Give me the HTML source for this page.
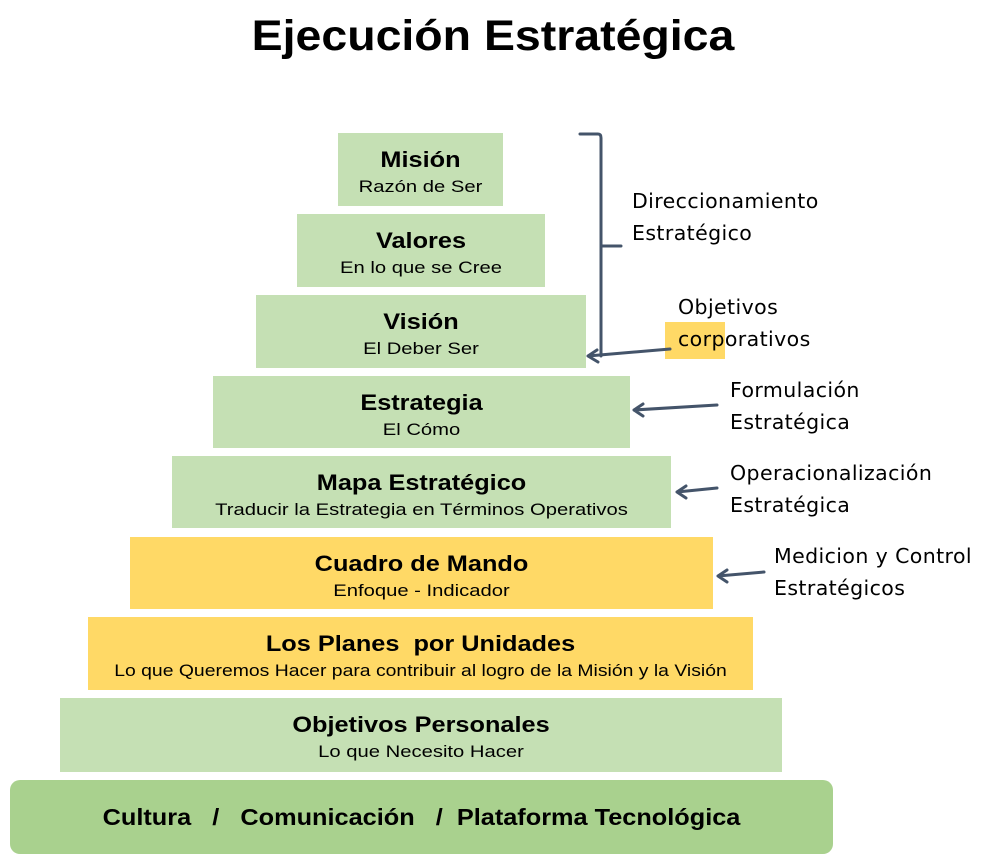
<!DOCTYPE html>
<html><head><meta charset="utf-8"><style>
body{margin:0;width:993px;height:864px;background:#fff;position:relative;overflow:hidden;font-family:"Liberation Sans",Arial,sans-serif}
.b{position:absolute;background:#c5e0b4;text-align:center;color:#000;white-space:nowrap}
.y{background:#ffd966}
.b .t{font-weight:bold;font-size:22px;margin-top:14px;line-height:26px;transform:scaleX(1.15)}
.b .s{font-size:17px;line-height:22px;margin-top:3px;transform:scaleX(1.19)}
.r{position:absolute;font-family:"DejaVu Sans","Liberation Sans",sans-serif;font-size:20.5px;letter-spacing:0.4px;line-height:32px;color:#000}
</style></head><body>
<div style="position:absolute;left:0;width:986px;top:12px;text-align:center;font-size:43px;font-weight:bold;transform:scaleX(1.08)">Ejecución Estratégica</div>

<div class="b" style="left:338px;top:133px;width:165px;height:73px"><div class="t">Misión</div><div class="s">Razón de Ser</div></div>
<div class="b" style="left:297px;top:214px;width:248px;height:73px"><div class="t">Valores</div><div class="s">En lo que se Cree</div></div>
<div class="b" style="left:256px;top:295px;width:330px;height:73px"><div class="t">Visión</div><div class="s">El Deber Ser</div></div>
<div class="b" style="left:213px;top:376px;width:417px;height:72px"><div class="t">Estrategia</div><div class="s">El Cómo</div></div>
<div class="b" style="left:172px;top:456px;width:499px;height:72px"><div class="t">Mapa Estratégico</div><div class="s">Traducir la Estrategia en Términos Operativos</div></div>
<div class="b y" style="left:130px;top:537px;width:583px;height:72px"><div class="t">Cuadro de Mando</div><div class="s">Enfoque - Indicador</div></div>
<div class="b y" style="left:88px;top:617px;width:665px;height:73px"><div class="t">Los Planes&nbsp; por Unidades</div><div class="s" style="transform:scaleX(1.14)">Lo que Queremos Hacer para contribuir al logro de la Misión y la Visión</div></div>
<div class="b" style="left:60px;top:698px;width:722px;height:74px"><div class="t">Objetivos Personales</div><div class="s">Lo que Necesito Hacer</div></div>
<div class="b" style="left:10px;top:780px;width:823px;height:74px;background:#a9d18e;border-radius:10px"><div style="font-weight:bold;font-size:23px;margin-top:24px;transform:scaleX(1.1)">Cultura &nbsp;&nbsp;/&nbsp;&nbsp; Comunicación &nbsp;&nbsp;/&nbsp; Plataforma Tecnológica</div></div>

<div style="position:absolute;left:665px;top:322px;width:60px;height:37px;background:#ffd966"></div>
<div class="r" style="left:632px;top:185px">Direccionamiento<br>Estratégico</div>
<div class="r" style="left:678px;top:291px">Objetivos<br>corporativos</div>
<div class="r" style="left:730px;top:374px">Formulación<br>Estratégica</div>
<div class="r" style="left:730px;top:457px">Operacionalización<br>Estratégica</div>
<div class="r" style="left:774px;top:540px">Medicion y Control<br>Estratégicos</div>

<svg width="993" height="864" style="position:absolute;left:0;top:0" fill="none" stroke="#44546a" stroke-width="3" stroke-linecap="round" stroke-linejoin="round">
<path d="M580 134 H598 Q601 134 601 138 V356"/>
<path d="M601 246 H621"/>
<path d="M670 349 L588 356 M597 350 L588 356 L598 362"/>
<path d="M717 405 L634 410 M643 404 L634 410 L643 416"/>
<path d="M717 488 L677 492 M686 486 L677 492 L686 498"/>
<path d="M764 572 L718 576 M727 570 L718 576 L727 582"/>
</svg>
</body></html>
